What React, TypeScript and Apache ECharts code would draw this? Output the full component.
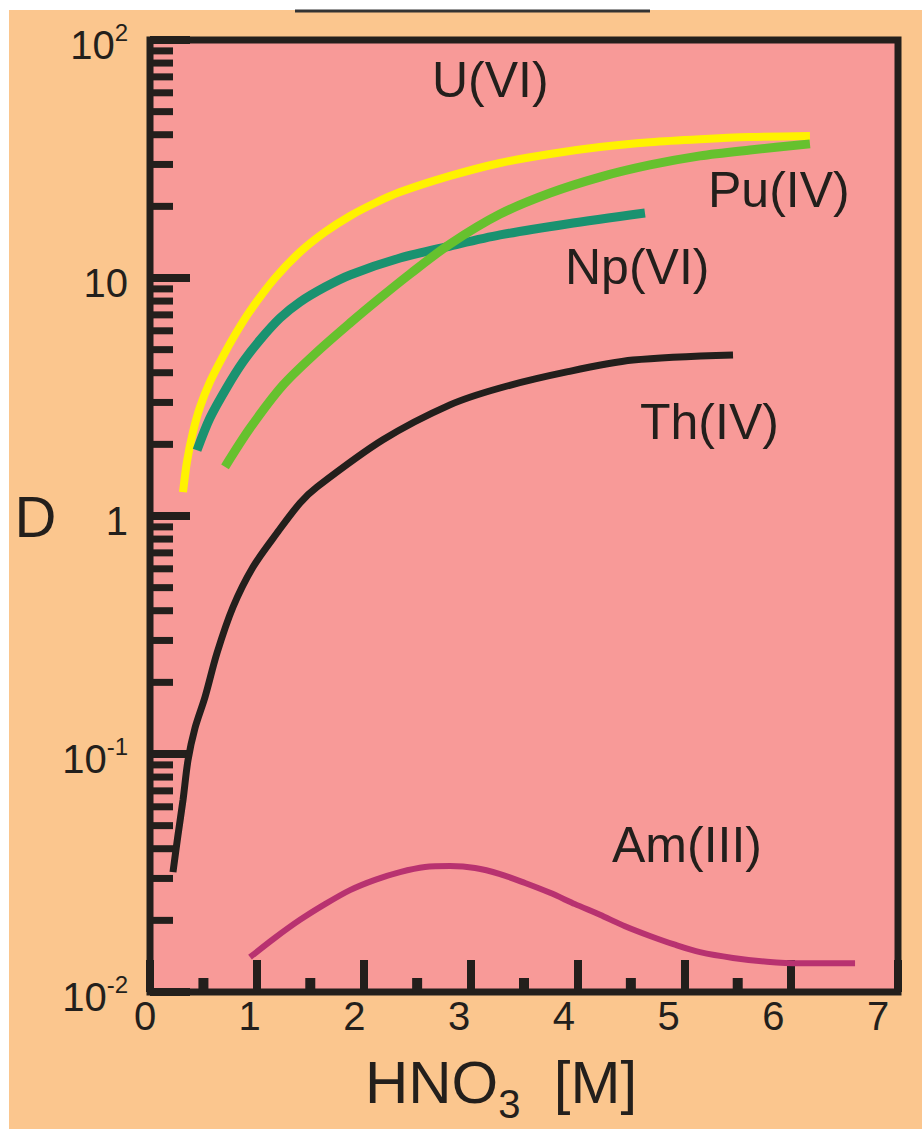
import React, { useEffect, useRef } from 'react';
import * as echarts from 'echarts';

// HNO3 concentration [M] and distribution ratio D
const uX = [0.309, 0.346, 0.402, 0.468, 0.561, 0.674, 0.805, 0.936, 1.170, 1.404, 1.638, 1.872, 2.106, 2.340, 2.808, 3.276, 3.744, 4.211, 4.679, 5.147, 5.615, 6.176];
const uD = [1.26, 1.69, 2.25, 2.87, 3.66, 4.61, 5.87, 7.27, 10.0, 12.86, 15.6, 18.23, 20.66, 22.96, 26.84, 30.43, 33.2, 35.5, 37.2, 38.3, 39.1, 39.5];

const npX = [0.440, 0.561, 0.721, 0.870, 1.029, 1.217, 1.404, 1.638, 1.872, 2.340, 2.808, 3.276, 3.902, 4.632];
const npD = [1.89, 2.58, 3.48, 4.44, 5.49, 6.79, 7.93, 9.16, 10.3, 12.13, 13.62, 15.17, 16.87, 18.75];

const puX = [0.702, 0.936, 1.245, 1.563, 1.872, 2.152, 2.433, 2.808, 3.276, 3.744, 4.211, 4.679, 5.147, 5.615, 6.176];
const puD = [1.61, 2.34, 3.55, 4.89, 6.47, 8.24, 10.4, 13.9, 18.57, 22.76, 26.55, 29.85, 32.6, 34.5, 36.6];

const thX = [0.215, 0.262, 0.309, 0.356, 0.421, 0.515, 0.627, 0.777, 0.964, 1.188, 1.404, 1.563, 2.18, 2.807, 3.275, 3.90, 4.52, 5.456];
const thD = [0.0319, 0.0457, 0.0641, 0.0944, 0.1285, 0.1736, 0.2657, 0.4146, 0.6105, 0.848, 1.134, 1.324, 2.09, 2.93, 3.45, 4.03, 4.52, 4.75];

const amX = [0.936, 1.170, 1.404, 1.638, 1.872, 2.106, 2.340, 2.574, 2.808, 3.042, 3.276, 3.510, 3.744, 3.978, 4.211, 4.445, 4.679, 4.913, 5.147, 5.456, 5.774, 6.083, 6.598];
const amD = [0.0140, 0.0169, 0.0201, 0.0234, 0.0268, 0.0296, 0.0319, 0.0335, 0.0338, 0.0332, 0.0313, 0.0287, 0.0261, 0.0234, 0.0211, 0.0189, 0.0172, 0.0158, 0.0147, 0.0139, 0.0134, 0.0132, 0.0132];

// tick definitions
const xLabels = [0, 1, 2, 3, 4, 5, 6, 7];
const xMinorTicks = [0.5, 1.5, 2.5, 3.5, 4.5, 5.5];
const yDecades = [0.01, 0.1, 1, 10];
const yMinorMultipliers = [2, 3, 4, 5, 6, 7, 8, 9];

const seriesLabels = [
  { text: 'U(VI)', x: 432, y: 80 },
  { text: 'Pu(IV)', x: 708, y: 190 },
  { text: 'Np(VI)', x: 565, y: 267 },
  { text: 'Th(IV)', x: 640, y: 422 },
  { text: 'Am(III)', x: 612, y: 845 },
];

const DARK = '#231F1C';
const PEACH = '#FBC68E';
const PINK = '#F89A98';
const FONT = '"Liberation Sans", Arial, sans-serif';

const pair = (xs: number[], ys: number[]) => xs.map((x, i) => [x, ys[i]]);

export default function App() {
  const ref = useRef<HTMLDivElement>(null);

  useEffect(() => {
    const chart = echarts.init(ref.current as HTMLDivElement, null, { renderer: 'svg' });

    const yMinor: number[][] = [];
    yDecades.forEach((d) => yMinorMultipliers.forEach((m) => yMinor.push([0, d * m])));

    const lineSeries = (name: string, data: number[][], color: string, width: number, z: number) => ({
      type: 'line',
      name,
      data,
      xAxisIndex: 0,
      yAxisIndex: 0,
      smooth: 0.3,
      showSymbol: false,
      symbol: 'none',
      silent: true,
      z,
      lineStyle: { color, width, cap: 'butt' },
    });

    const option: any = {
      animation: false,
      backgroundColor: PEACH,
      textStyle: { fontFamily: FONT },
      grid: [
        {
          left: 150,
          right: 24,
          top: 40,
          bottom: 137,
          show: true,
          backgroundColor: PINK,
          borderColor: DARK,
          borderWidth: 7,
        },
        { left: 145, right: 44, top: 40, bottom: 137, show: false },
      ],
      xAxis: [
        {
          type: 'value',
          gridIndex: 0,
          min: 0,
          max: 7,
          interval: 1,
          axisLine: { show: false },
          axisLabel: { show: false },
          splitLine: { show: false },
          axisTick: { show: true, inside: true, length: 32, lineStyle: { color: DARK, width: 8 } },
        },
        {
          type: 'value',
          gridIndex: 1,
          min: xLabels[0],
          max: xLabels[xLabels.length - 1],
          interval: 1,
          axisLine: { show: false },
          axisTick: { show: false },
          splitLine: { show: false },
          axisLabel: { show: true, fontSize: 40, lineHeight: 40, margin: 5, color: DARK, fontFamily: FONT },
          name: '{a|HNO}{s|3}{a|  [M]}',
          nameLocation: 'middle',
          nameGap: 61,
          nameTextStyle: {
            padding: [0, 21, 0, 0],
            rich: {
              a: { fontSize: 60, lineHeight: 60, verticalAlign: 'top', color: DARK, fontFamily: FONT },
              s: { fontSize: 40, lineHeight: 40, padding: [32, 0, 0, 0], verticalAlign: 'top', color: DARK, fontFamily: FONT },
            },
          },
        },
      ],
      yAxis: [
        {
          type: 'log',
          gridIndex: 0,
          logBase: 10,
          min: 0.01,
          max: 100,
          axisLine: { show: false },
          splitLine: { show: false },
          axisTick: { show: true, inside: true, length: 40, lineStyle: { color: DARK, width: 8 } },
          axisLabel: {
            margin: 22,
            formatter: (v: number) => {
              const e = Math.round(Math.log10(v));
              if (e === 1) return '{b|10}';
              if (e === 0) return '{b|1}';
              return '{b|10}{s|' + e + '}';
            },
            rich: {
              b: { fontSize: 40, lineHeight: 40, padding: [5, 0, 0, 0], verticalAlign: 'top', color: DARK, fontFamily: FONT },
              s: { fontSize: 24, lineHeight: 24, verticalAlign: 'top', color: DARK, fontFamily: FONT },
            },
          },
          name: 'D',
          nameLocation: 'middle',
          nameRotate: 0,
          nameGap: 82,
          nameTextStyle: { fontSize: 58, color: DARK, fontFamily: FONT },
        },
        { type: 'value', gridIndex: 1, show: false, min: 0, max: 1 },
      ],
      series: [
        {
          type: 'custom',
          xAxisIndex: 0,
          yAxisIndex: 0,
          silent: true,
          clip: false,
          z: 3,
          data: yMinor,
          renderItem: (params: any, api: any) => {
            const p = api.coord([api.value(0), api.value(1)]);
            return {
              type: 'line',
              shape: { x1: p[0], y1: p[1], x2: p[0] + 23, y2: p[1] },
              style: { stroke: DARK, lineWidth: 7 },
            };
          },
        },
        {
          type: 'custom',
          xAxisIndex: 0,
          yAxisIndex: 0,
          silent: true,
          clip: false,
          z: 3,
          data: xMinorTicks.map((v) => [v, 0.01]),
          renderItem: (params: any, api: any) => {
            const p = api.coord([api.value(0), api.value(1)]);
            return {
              type: 'line',
              shape: { x1: p[0], y1: p[1], x2: p[0], y2: p[1] - 14 },
              style: { stroke: DARK, lineWidth: 10 },
            };
          },
        },
        lineSeries('U(VI)', pair(uX, uD), '#FFF200', 8, 4),
        lineSeries('Np(VI)', pair(npX, npD), '#1A9270', 9, 5),
        lineSeries('Pu(IV)', pair(puX, puD), '#66C12E', 9, 6),
        lineSeries('Th(IV)', pair(thX, thD), DARK, 7, 7),
        lineSeries('Am(III)', pair(amX, amD), '#B83270', 6, 8),
      ],
      graphic: [
        { type: 'rect', z: 100, shape: { x: 0, y: 0, width: 922, height: 10 }, style: { fill: '#FFFFFF' } },
        { type: 'rect', z: 100, shape: { x: 0, y: 0, width: 9, height: 1129 }, style: { fill: '#FFFFFF' } },
        { type: 'line', z: 101, shape: { x1: 295, y1: 11, x2: 650, y2: 11 }, style: { stroke: '#333333', lineWidth: 3 } },
        ...seriesLabels.map((l) => ({
          type: 'text',
          z: 100,
          x: l.x,
          y: l.y,
          style: {
            text: l.text,
            fontSize: 50,
            fontFamily: FONT,
            fill: DARK,
            align: 'left',
            verticalAlign: 'middle',
            textAlign: 'left',
            textVerticalAlign: 'middle',
          },
        })),
      ],
    };

    chart.setOption(option);
    return () => chart.dispose();
  }, []);

  return (
    <div style={{ position: 'absolute', left: 0, top: 0, width: 922, height: 1129 }}>
      <div ref={ref} style={{ width: 922, height: 1129 }} />
    </div>
  );
}
